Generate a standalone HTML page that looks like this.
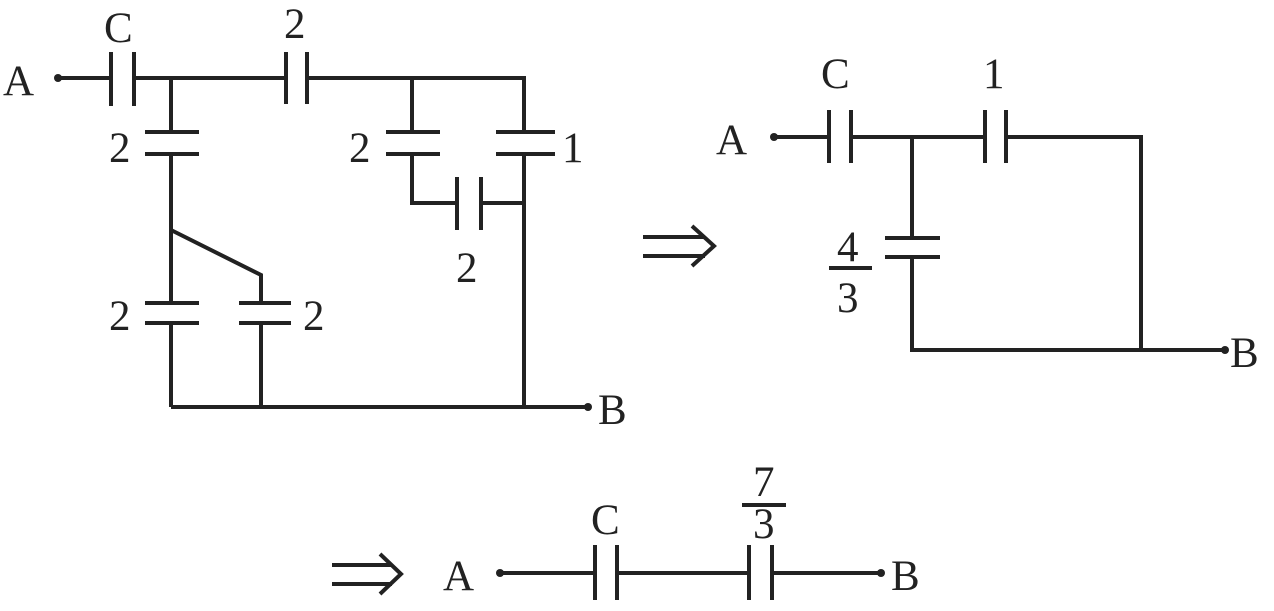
<!DOCTYPE html>
<html><head><meta charset="utf-8"><style>
html,body{margin:0;padding:0;background:#fff;}
svg text{font-family:"Liberation Serif",serif;font-size:43px;fill:#222;}
</style></head><body>
<svg width="1274" height="606" viewBox="0 0 1274 606" xmlns="http://www.w3.org/2000/svg">
<g stroke="#222" stroke-width="4" fill="none">
<!-- Left circuit -->
<path d="M58 78 H111 M134 78 H286 M307 78 H524 V132"/>
<path d="M111 52 V106 M134 52 V106 M286 52 V104 M307 52 V104"/>
<path d="M171 78 V132 M145 132 H199 M145 154 H199 M171 154 V303"/>
<path d="M171 230 L261 275 V303"/>
<path d="M145 303 H199 M145 323 H199 M239 303 H291 M239 323 H291"/>
<path d="M171 323 V407 M261 323 V407 M171 407 H588"/>
<path d="M412 78 V132 M386 132 H440 M386 154 H440 M412 154 V203 H457 M481 203 H524"/>
<path d="M457 177 V230 M481 177 V230"/>
<path d="M496 132 H555 M496 154 H555 M524 154 V407"/>
<!-- Right circuit -->
<path d="M774 137 H829 M851 137 H985 M1006 137 H1141 V350 M912 137 V238 M912 257 V350 H1225"/>
<path d="M829 110 V163 M851 110 V163 M985 110 V163 M1006 110 V163"/>
<path d="M885 238 H940 M885 257 H940"/>
<path d="M829 268 H872"/>
<!-- Bottom -->
<path d="M500 573 H595 M617 573 H749 M772 573 H881"/>
<path d="M595 545 V600 M617 545 V600 M749 545 V600 M772 545 V600"/>
<path d="M742 505 H786"/>
<!-- arrows -->
<path d="M643 237 H705 M643 256 H705 M692 226 L714 246 L692 266"/>
<path d="M332 565 H392 M332 584 H392 M380 554 L401 574 L380 594"/>
</g>
<g fill="#222">
<circle cx="58" cy="78" r="4"/><circle cx="588" cy="407" r="4"/>
<circle cx="774" cy="137" r="4"/><circle cx="1225" cy="350" r="4"/>
<circle cx="500" cy="573" r="4"/><circle cx="881" cy="573" r="4"/>
</g>
<text x="3" y="95">A</text>
<text x="104" y="42">C</text>
<text x="284" y="38">2</text>
<text x="109" y="162">2</text>
<text x="349" y="162">2</text>
<text x="562" y="162">1</text>
<text x="456" y="282">2</text>
<text x="109" y="330">2</text>
<text x="303" y="330">2</text>
<text x="598" y="424">B</text>
<text x="716" y="154">A</text>
<text x="821" y="88">C</text>
<text x="983" y="88">1</text>
<text x="837" y="261">4</text>
<text x="837" y="312">3</text>
<text x="1230" y="367">B</text>
<text x="443" y="590">A</text>
<text x="591" y="534">C</text>
<text x="753" y="496">7</text>
<text x="753" y="538">3</text>
<text x="891" y="590">B</text>
</svg>
</body></html>
